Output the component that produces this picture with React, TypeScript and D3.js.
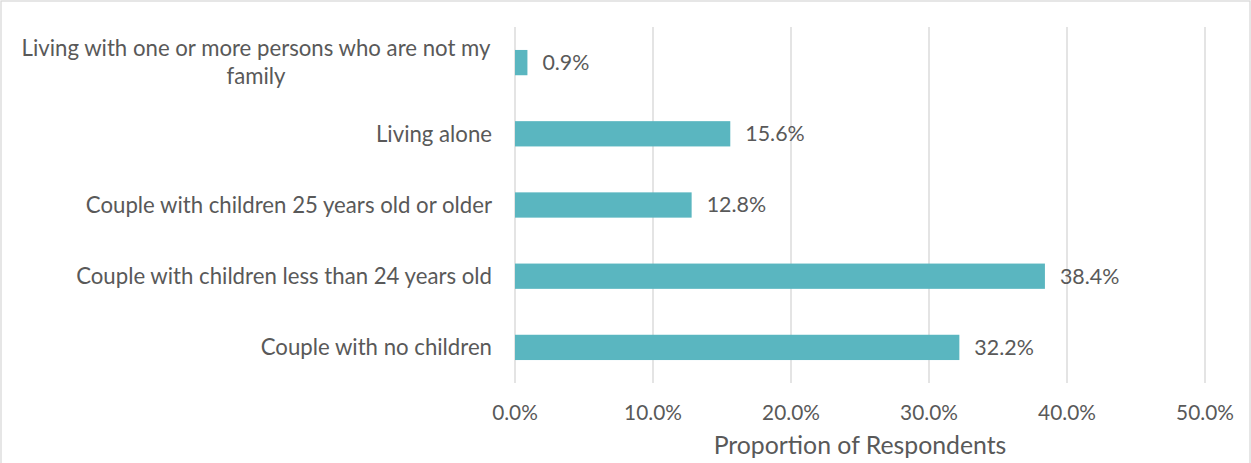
import React from "react";
import * as d3 from "d3";

const categories = [
  "Living with one or more persons who are not my family",
  "Living alone",
  "Couple with children 25 years old or older",
  "Couple with children less than 24 years old",
  "Couple with no children",
];
const categoryLines: string[][] = [
  ["Living with one or more persons who are not my", "family"],
  ["Living alone"],
  ["Couple with children 25 years old or older"],
  ["Couple with children less than 24 years old"],
  ["Couple with no children"],
];
const values = [0.9, 15.6, 12.8, 38.4, 32.2];
const ticks = [0, 10, 20, 30, 40, 50];
const axisTitle = "Proportion of Respondents";

const W = 1251;
const H = 463;
const FONT = "Lato, 'Noto Sans', sans-serif";
const TEXT = "#595959";
const GRID = "#d9d9d9";
const BAR = "#5ab6c0";

export default function App() {
  const x = d3.scaleLinear().domain([0, 50]).range([515, 1205]);
  const y = d3
    .scaleBand<string>()
    .domain(categories)
    .range([27, 383])
    .paddingInner(0.645)
    .paddingOuter(0.3225);
  const catSize = 22.2;
  const dataSize = 21.4;
  const tickSize = 20.8;
  return (
    <svg
      width={W}
      height={H}
      style={{ position: "absolute", left: 0, top: 0, background: "#fff" }}
      fontFamily={FONT}
    >
      <rect x={1} y={1} width={W - 2} height={H + 10} fill="#fff" stroke={GRID} strokeWidth={1.3} />
      {ticks.map((t) => (
        <line key={t} x1={x(t)} x2={x(t)} y1={27} y2={383} stroke={GRID} strokeWidth={1.4} />
      ))}
      {categories.map((c, i) => {
        const yc = (y(c) as number) + y.bandwidth() / 2;
        const lines = categoryLines[i];
        return (
          <g key={c}>
            <rect
              x={x(0)}
              y={y(c)}
              width={x(values[i]) - x(0)}
              height={y.bandwidth()}
              fill={BAR}
            />
            <text
              x={x(values[i]) + 15}
              y={yc}
              dy="0.35em"
              fontSize={dataSize}
              fill={TEXT}
            >
              {values[i].toFixed(1) + "%"}
            </text>
            {lines.length === 1 ? (
              <text x={492} y={yc} dy="0.35em" textAnchor="end" fontSize={catSize} fill={TEXT}>
                {lines[0]}
              </text>
            ) : (
              lines.map((l, k) => (
                <text
                  key={k}
                  x={256}
                  y={yc + (k - (lines.length - 1) / 2) * 28}
                  dy="0.35em"
                  textAnchor="middle"
                  fontSize={catSize}
                  fill={TEXT}
                >
                  {l}
                </text>
              ))
            )}
          </g>
        );
      })}
      {ticks.map((t) => (
        <text key={"t" + t} x={x(t)} y={413} dy="0.35em" textAnchor="middle" fontSize={tickSize} fill={TEXT}>
          {t.toFixed(1) + "%"}
        </text>
      ))}
      <text x={860} y={445} dy="0.35em" textAnchor="middle" fontSize={24.8} fill={TEXT}>
        {axisTitle}
      </text>
    </svg>
  );
}
